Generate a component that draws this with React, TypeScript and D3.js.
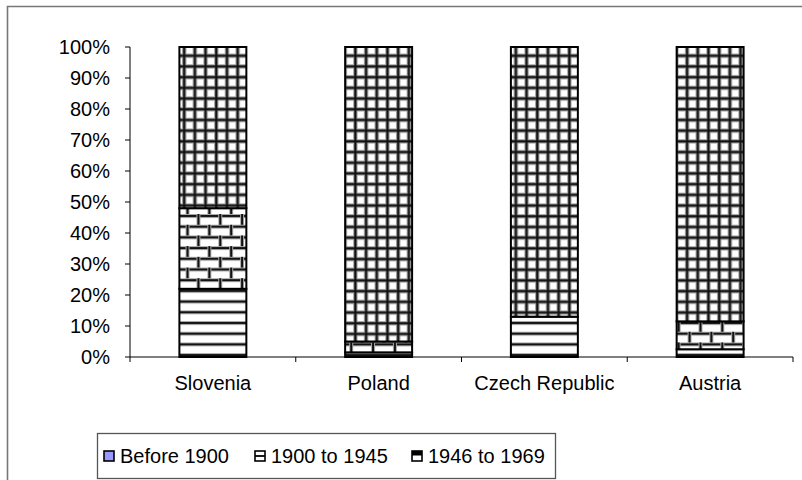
import React from "react";
import * as d3 from "d3";

const categories = ["Slovenia", "Poland", "Czech Republic", "Austria"];
const seriesNames = ["Before 1900", "1900 to 1945", "1946 to 1969", "1970 and later"];
const before1900 = [0, 0, 0, 0];
const from1900to1945 = [0.22, 0.015, 0.13, 0.025];
const from1946to1969 = [0.26, 0.035, 0, 0.09];
const from1970 = [0.52, 0.95, 0.87, 0.885];
const yTicks = [0, 0.1, 0.2, 0.3, 0.4, 0.5, 0.6, 0.7, 0.8, 0.9, 1];
const legendItems = ["Before 1900", "1900 to 1945", "1946 to 1969"];

const W = 802;
const H = 480;
const FONT = "Liberation Sans, Arial, sans-serif";
const FS = 20;

export default function App() {
  const rows = categories.map((c, i) => ({
    cat: c,
    [seriesNames[0]]: before1900[i],
    [seriesNames[1]]: from1900to1945[i],
    [seriesNames[2]]: from1946to1969[i],
    [seriesNames[3]]: from1970[i],
  }));
  const stack = d3.stack<any>().keys(seriesNames);
  const stacked = stack(rows);

  const x = d3
    .scaleBand<string>()
    .domain(categories)
    .range([130, 793])
    .paddingInner(0.596)
    .paddingOuter(0.298);
  const y = d3.scaleLinear().domain([0, 1]).range([357, 47]);
  const step = x.step();
  const boundaries = [0, 1, 2, 3, 4].map((i) => 130 + i * step);

  const fills = ["#9999FF", "url(#pHoriz)", "url(#pBrick)", "url(#pGrid)"];
  const P = 10.7;
  const BW = 2 * P * 1.02;

  return (
    <svg
      width={W}
      height={H}
      style={{ position: "absolute", left: 0, top: 0, background: "#fff" }}
      fontFamily={FONT}
    >
      <defs>
        <pattern id="pHoriz" patternUnits="userSpaceOnUse" width={P} height={P}>
          <rect width={P} height={P} fill="#fff" />
          <rect y={0} width={P} height={4} fill="#aaa" />
          <rect y={1} width={P} height={2} fill="#111" />
        </pattern>
        <pattern id="pGrid" patternUnits="userSpaceOnUse" width={P} height={P}>
          <rect width={P} height={P} fill="#fff" />
          <rect x={0} y={0} width={P} height={4.5} fill="#aaa" />
          <rect x={0} y={0} width={4.5} height={P} fill="#aaa" />
          <rect x={1.2} y={0} width={2.2} height={P} fill="#111" />
          <rect x={0} y={1.2} width={P} height={2.2} fill="#111" />
        </pattern>
        <pattern id="pBrick" patternUnits="userSpaceOnUse" width={BW} height={2 * P}>
          <rect width={BW} height={2 * P} fill="#fff" />
          <rect x={0} y={0} width={BW} height={4} fill="#aaa" />
          <rect x={0} y={1} width={BW} height={2} fill="#111" />
          <rect x={0} y={P} width={BW} height={4} fill="#aaa" />
          <rect x={0} y={P + 1} width={BW} height={2} fill="#111" />
          <rect x={0} y={0} width={4} height={P} fill="#aaa" />
          <rect x={1} y={0} width={2} height={P} fill="#111" />
          <rect x={BW / 2} y={P} width={4} height={P} fill="#aaa" />
          <rect x={BW / 2 + 1} y={P} width={2} height={P} fill="#111" />
        </pattern>
      </defs>

      {/* outer chart border */}
      <path d={`M7.5,${H + 2} L7.5,6.5 L${W + 2},6.5`} fill="none" stroke="#777" strokeWidth={1.6} />

      {/* bars */}
      {stacked.map((s, si) => (
        <g key={seriesNames[si]}>
          {s.map((d, i) => {
            const h = y(d[0]) - y(d[1]);
            if (h <= 0) return null;
            return (
              <rect
                key={i}
                x={x(categories[i])}
                y={y(d[1])}
                width={x.bandwidth()}
                height={h}
                fill={fills[si]}
                stroke="#000"
                strokeWidth={2}
              />
            );
          })}
        </g>
      ))}

      {/* y axis */}
      <line x1={130} x2={130} y1={y(1)} y2={y(0)} stroke="#000" strokeWidth={1} />
      {yTicks.map((t) => (
        <g key={t}>
          <line x1={125} x2={130} y1={y(t)} y2={y(t)} stroke="#000" strokeWidth={1} />
          <text x={110} y={y(t)} dy="0.36em" textAnchor="end" fontSize={FS} fill="#000">
            {d3.format(".0%")(t)}
          </text>
        </g>
      ))}

      {/* x axis */}
      <line x1={130} x2={793} y1={y(0)} y2={y(0)} stroke="#000" strokeWidth={1} />
      {boundaries.map((b, i) => (
        <line key={i} x1={b} x2={b} y1={y(0)} y2={y(0) + 5} stroke="#000" strokeWidth={1} />
      ))}
      {categories.map((c) => (
        <text
          key={c}
          x={(x(c) as number) + x.bandwidth() / 2}
          y={390}
          textAnchor="middle"
          fontSize={FS}
          fill="#000"
        >
          {c}
        </text>
      ))}

      {/* legend */}
      <rect x={97.5} y={433.5} width={458} height={45} fill="#fff" stroke="#555" strokeWidth={1.3} />
      {legendItems.map((name, i) => {
        const lx = [104, 255, 412][i];
        return (
          <g key={name}>
            <rect
              x={lx}
              y={451}
              width={10}
              height={10}
              fill={fills[i] === "#9999FF" ? "#9999FF" : "#fff"}
              stroke="#000"
              strokeWidth={1.6}
            />
            {i === 1 && <line x1={lx} x2={lx + 10} y1={456} y2={456} stroke="#000" strokeWidth={1.8} />}
            {i === 2 && <rect x={lx} y={451} width={10} height={4.5} fill="#000" />}
            <text x={lx + 16} y={456} dy="0.36em" fontSize={FS} fill="#000">
              {name}
            </text>
          </g>
        );
      })}
    </svg>
  );
}
